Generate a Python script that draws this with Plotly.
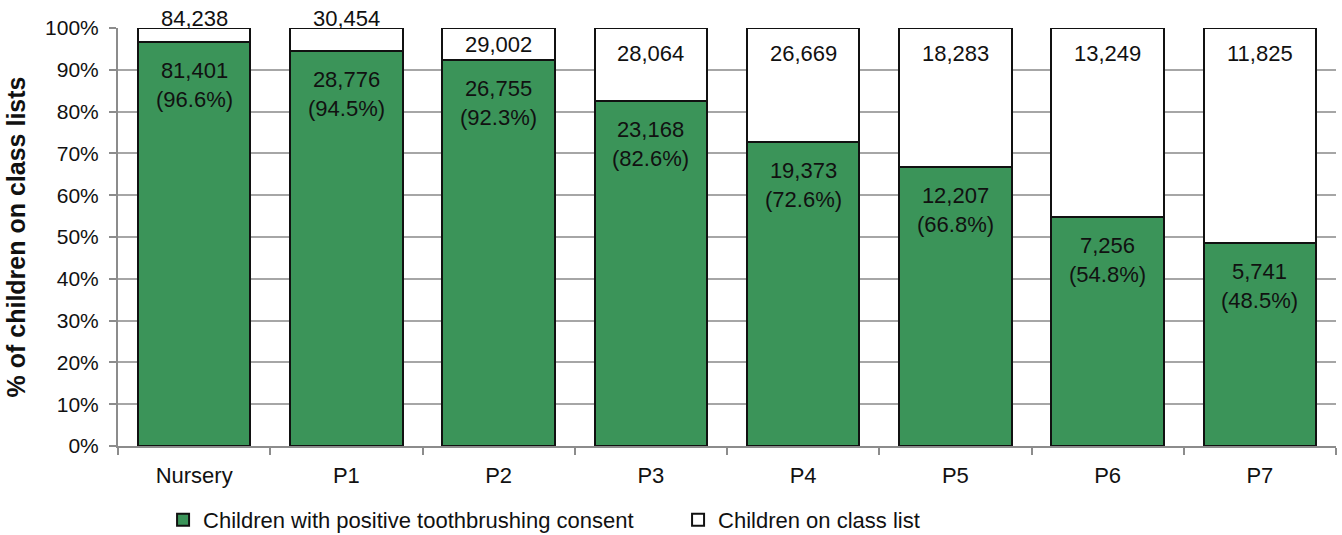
import plotly.graph_objects as go

categories = ["Nursery", "P1", "P2", "P3", "P4", "P5", "P6", "P7"]
consent = [81401, 28776, 26755, 23168, 19373, 12207, 7256, 5741]
class_list = [84238, 30454, 29002, 28064, 26669, 18283, 13249, 11825]

GREEN = "#3B9459"
FONT = "Liberation Sans, Arial, sans-serif"

pct = [c / t * 100 for c, t in zip(consent, class_list)]
rest = [100 - p for p in pct]

fig = go.Figure()
fig.add_trace(go.Bar(
    x=categories, y=pct, name="Children with positive toothbrushing consent",
    marker=dict(color=GREEN, line=dict(color="#111111", width=2)),
    hoverinfo="skip",
))
fig.add_trace(go.Bar(
    x=categories, y=rest, name="Children on class list",
    marker=dict(color="white", line=dict(color="#111111", width=2)),
    hoverinfo="skip",
))

annotations = []
for cat, c, p, t, r in zip(categories, consent, pct, class_list, rest):
    annotations.append(dict(
        x=cat, y=p, xref="x", yref="y", yanchor="top", yshift=-14,
        text=f"{c:,}<br>({p:.1f}%)", showarrow=False,
        font=dict(family=FONT, size=22, color="#111111"),
    ))
    if r < 7:
        ya, ys = 100, 10
    else:
        ya, ys = 100 - min(r / 2, 6), 0
    annotations.append(dict(
        x=cat, y=ya, xref="x", yref="y", yanchor="middle", yshift=ys,
        text=f"{t:,}", showarrow=False,
        font=dict(family=FONT, size=22, color="#111111"),
    ))

fig.update_layout(
    barmode="stack",
    bargap=0.26,
    width=1342, height=535,
    margin=dict(l=118, r=6, t=28, b=89, autoexpand=False),
    paper_bgcolor="white", plot_bgcolor="white",
    font=dict(family=FONT, size=21, color="#111111"),
    annotations=annotations,
    showlegend=True,
    legend=dict(
        orientation="h", x=0.037, xanchor="left", y=-0.177, yanchor="middle",
        font=dict(family=FONT, size=22, color="#111111"),
        itemwidth=30, entrywidth=470, traceorder="normal", itemclick=False,
    ),
    xaxis=dict(
        showline=True, linecolor="#8C8C8C", linewidth=2,
        ticks="outside", tickson="boundaries", ticklen=7, tickcolor="#8C8C8C", tickwidth=2,
        tickfont=dict(family=FONT, size=22, color="#111111"),
        ticklabelstandoff=9,
        showgrid=False,
    ),
    yaxis=dict(
        range=[0, 100], dtick=10, ticksuffix="%",
        showline=True, linecolor="#8C8C8C", linewidth=2,
        ticks="outside", ticklen=7, tickcolor="#8C8C8C", tickwidth=2,
        showgrid=True, gridcolor="#A6A6A6", gridwidth=1.5,
        tickfont=dict(family=FONT, size=21, color="#111111"),
        ticklabelstandoff=6,
        title=dict(text="<b>% of children on class lists</b>", standoff=12,
                   font=dict(family=FONT, size=25, color="#111111")),
        zeroline=False,
    ),
)

fig.write_html(
    "out.html",
    config={"displayModeBar": False},
    post_script="document.body.style.margin='0';document.body.style.overflow='hidden';",
)
